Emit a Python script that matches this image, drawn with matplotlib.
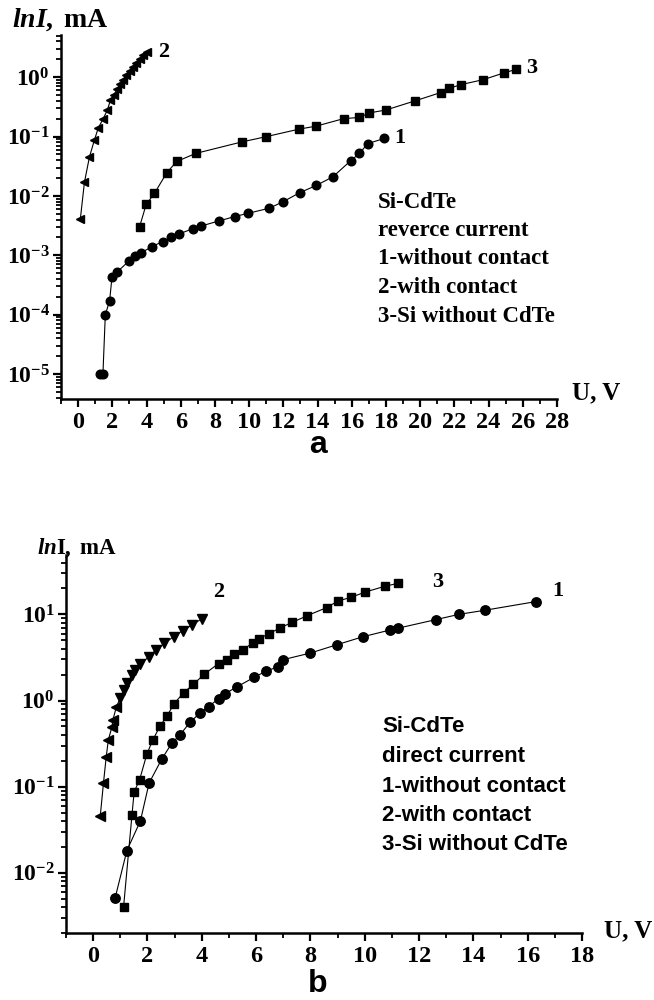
import numpy as np
import matplotlib
matplotlib.use("Agg")
import matplotlib.pyplot as plt
from matplotlib.ticker import MultipleLocator, LogLocator, FuncFormatter, NullFormatter

plt.rcParams['font.family'] = 'Liberation Serif'
plt.rcParams['font.weight'] = 'bold'
plt.rcParams['mathtext.fontset'] = 'custom'
plt.rcParams['mathtext.rm'] = 'Liberation Serif:bold'
plt.rcParams['mathtext.bf'] = 'Liberation Serif:bold'
plt.rcParams['mathtext.it'] = 'Liberation Serif:italic:bold'

# --- panel a: reverse current ---
rev_u1 = [1.26, 1.45, 1.59, 1.84, 1.98, 2.27, 2.99, 3.34, 3.69, 4.31, 4.95, 5.44, 5.92,
          6.7, 7.17, 8.25, 9.17, 9.94, 11.17, 11.95, 12.95, 13.92, 14.9, 15.93, 16.45,
          16.93, 17.91]
rev_i1 = [1.0e-5, 1.0e-5, 1.0e-4, 1.7e-4, 4.3e-4, 5.2e-4, 8.1e-4, 9.8e-4, 1.1e-3, 1.4e-3,
          1.7e-3, 2.0e-3, 2.3e-3, 2.8e-3, 3.1e-3, 3.8e-3, 4.5e-3, 5.1e-3, 6.2e-3, 7.9e-3,
          0.0113, 0.015, 0.021, 0.039, 0.052, 0.076, 0.093]
rev_u2 = [0.13, 0.37, 0.66, 0.95, 1.18, 1.47, 1.71, 1.89, 2.08, 2.27, 2.47, 2.62, 2.81,
          3.01, 3.2, 3.4, 3.59, 3.79, 4.04]
rev_i2 = [4.1e-3, 0.017, 0.045, 0.087, 0.14, 0.20, 0.28, 0.41, 0.50, 0.62, 0.78, 0.91,
          1.08, 1.28, 1.49, 1.74, 2.03, 2.35, 2.7]
rev_u3 = [3.59, 3.98, 4.46, 5.18, 5.76, 6.88, 9.56, 10.96, 12.9, 13.93, 15.52, 16.45,
          17.03, 18.0, 19.71, 21.2, 21.7, 22.4, 23.7, 24.9, 25.6]
rev_i3 = [3.0e-3, 7.2e-3, 0.011, 0.0245, 0.038, 0.052, 0.081, 0.099, 0.133, 0.15, 0.20,
          0.21, 0.25, 0.28, 0.40, 0.55, 0.65, 0.75, 0.91, 1.18, 1.35]

# --- panel b: direct current ---
dir_u1 = [0.81, 1.24, 1.74, 2.06, 2.53, 2.9, 3.2, 3.57, 3.92, 4.25, 4.62, 4.86, 5.29,
          5.93, 6.37, 6.79, 6.99, 8.0, 8.99, 9.93, 10.94, 11.21, 12.62, 13.46, 14.44, 16.31]
dir_i1 = [5.1e-3, 0.018, 0.040, 0.11, 0.21, 0.32, 0.40, 0.56, 0.71, 0.85, 1.05, 1.2, 1.44,
          1.86, 2.2, 2.45, 2.98, 3.56, 4.46, 5.5, 6.6, 6.9, 8.7, 10.0, 11.2, 14.1]
dir_u2 = [0.26, 0.38, 0.48, 0.56, 0.69, 0.73, 0.85, 1.0, 1.12, 1.24, 1.43, 1.55, 1.73,
          2.04, 2.32, 2.62, 2.96, 3.3, 3.63, 4.0]
dir_i2 = [0.045, 0.11, 0.22, 0.35, 0.49, 0.60, 0.83, 1.08, 1.32, 1.58, 1.96, 2.24, 2.63,
          3.2, 3.9, 4.6, 5.5, 6.5, 7.5, 8.9]
dir_u3 = [1.12, 1.43, 1.51, 1.71, 1.98, 2.2, 2.47, 2.72, 2.98, 3.33, 3.69, 4.09, 4.62,
          4.93, 5.2, 5.51, 5.9, 6.09, 6.49, 6.89, 7.34, 7.89, 8.6, 9.01, 9.5, 10.02,
          10.76, 11.24]
dir_i3 = [4.0e-3, 0.047, 0.087, 0.12, 0.24, 0.35, 0.51, 0.66, 0.92, 1.23, 1.54, 2.02,
          2.69, 2.99, 3.5, 3.9, 4.7, 5.2, 6.0, 7.0, 8.1, 9.7, 12.0, 14.3, 15.8, 18.2,
          21.3, 23.0]

rev_legend = ["Si-CdTe", "reverce current", "1-without contact", "2-with contact",
              "3-Si without CdTe"]
dir_legend = ["Si-CdTe", "direct current", "1-without contact", "2-with contact",
              "3-Si without CdTe"]


def decade(v, pos):
    return r'$\mathbf{10^{%d}}$' % int(round(np.log10(v)))


def style_axes(ax, xmax):
    for s in ['top', 'right']:
        ax.spines[s].set_visible(False)
    for s in ['left', 'bottom']:
        ax.spines[s].set_linewidth(1.8)
    ax.set_yscale('log')
    ax.xaxis.set_minor_locator(MultipleLocator(1))
    ax.set_xticks(np.arange(0, xmax + 1, 2))
    ax.yaxis.set_major_locator(LogLocator(base=10, numticks=20))
    ax.yaxis.set_minor_locator(LogLocator(base=10, subs=np.arange(2, 10), numticks=20))
    ax.yaxis.set_major_formatter(FuncFormatter(decade))
    ax.yaxis.set_minor_formatter(NullFormatter())
    ax.tick_params(which='major', direction='out', length=6, width=1.6, labelsize=17.5, pad=3)
    ax.tick_params(which='minor', direction='out', length=3.5, width=1.3)
    ax.tick_params(axis='y', which='major', labelsize=17, pad=2)


fig = plt.figure(figsize=(6.54, 10), dpi=100)

# panel a
ax1 = fig.add_axes([0.0933, 0.601, 0.7584, 0.364])
ax1.plot(rev_u1, rev_i1, '-', color='black', lw=0.8, marker='o', ms=6.2, mfc='black', mec='black')
ax1.plot(rev_u2, rev_i2, '-', color='black', lw=0.8, marker='<', ms=6.2, mfc='black', mec='black')
ax1.plot(rev_u3, rev_i3, '-', color='black', lw=0.8, marker='s', ms=5.2, mfc='black', mec='black')
ax1.set_xlim(-1, 28)
ax1.set_ylim(10 ** -5.42, 10 ** 0.71)
style_axes(ax1, 28)
ax1.text(4.7, 2.7, "2", fontsize=16, va='center', ha='left')
ax1.text(26.2, 1.4, "3", fontsize=16, va='center', ha='left')
ax1.text(18.5, 0.095, "1", fontsize=16, va='center', ha='left')
for k, line in enumerate(rev_legend):
    fig.text(378 / 654, 1 - (202 + 28.5 * k) / 1000, line, fontsize=16.5,
             ha='left', va='center', family='Liberation Serif', weight='bold')
fig.text(12 / 654, 1 - 20 / 1000, r'$lnI\mathbf{,\;mA}$', fontsize=20, ha='left', va='center')
fig.text(572 / 654, 1 - 393 / 1000, "U, V", fontsize=18, ha='left', va='center')
fig.text(318 / 654, 1 - 445 / 1000, "a", fontsize=23, ha='center', va='center',
         family='Liberation Sans', weight='bold')

# panel b
ax2 = fig.add_axes([0.1009, 0.067, 0.789, 0.378])
ax2.plot(dir_u1, dir_i1, '-', color='black', lw=0.8, marker='o', ms=6.8, mfc='black', mec='black')
ax2.plot(dir_u2, dir_i2, '-', color='black', lw=0.8)
ax2.plot(dir_u2[:7], dir_i2[:7], ls='none', marker='<', ms=6.5, mfc='black', mec='black')
ax2.plot(dir_u2[7:], dir_i2[7:], ls='none', marker='v', ms=6.5, mfc='black', mec='black')
ax2.plot(dir_u3, dir_i3, '-', color='black', lw=0.8, marker='s', ms=5.4, mfc='black', mec='black')
ax2.set_xlim(-1, 18)
ax2.set_ylim(10 ** -2.70, 10 ** 1.69)
style_axes(ax2, 18)
ax2.text(4.4, 18.0, "2", fontsize=16, va='center', ha='left')
ax2.text(12.5, 23.5, "3", fontsize=16, va='center', ha='left')
ax2.text(16.9, 18.5, "1", fontsize=16, va='center', ha='left')
for k, line in enumerate(dir_legend):
    fig.text(382 / 654, 1 - (727 + 29.5 * k) / 1000, line, fontsize=16,
             ha='left', va='center', family='Liberation Sans', weight='bold')
fig.text(37 / 654, 1 - 548 / 1000, r'$ln\mathbf{I,\;mA}$', fontsize=16.5, ha='left', va='center')
fig.text(604 / 654, 1 - 931 / 1000, "U, V", fontsize=18, ha='left', va='center')
fig.text(318 / 654, 1 - 984 / 1000, "b", fontsize=23, ha='center', va='center',
         family='Liberation Sans', weight='bold')

fig.savefig("out.png", dpi=100)
